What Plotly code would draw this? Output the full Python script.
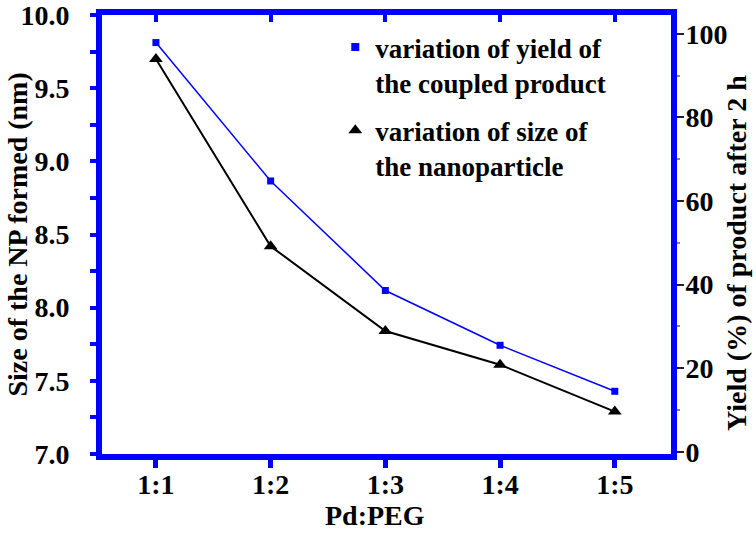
import plotly.graph_objects as go

# ---- data ----
ratios = ["1:1", "1:2", "1:3", "1:4", "1:5"]
yield_pct = [97.9, 64.8, 38.6, 25.5, 14.5]      # right axis, blue squares
np_size_nm = [9.70, 8.42, 7.84, 7.61, 7.29]     # left axis, black triangles
yield_label = "variation of yield of<br>the coupled product"
size_label = "variation of size of<br>the nanoparticle"
x_title = "Pd:PEG"
left_title = "Size of the NP formed (nm)"
right_title = "Yield (%) of product after 2 h"

BLUE = "#0000ff"
FONT = "Liberation Serif, Times New Roman, serif"
tickfont = dict(family=FONT, size=28, color="black", weight="bold")
titlefont = dict(family=FONT, size=28, color="black", weight="bold")

fig = go.Figure()

fig.add_trace(go.Scatter(
    x=ratios, y=np_size_nm, mode="lines+markers", yaxis="y", xaxis="x",
    line=dict(color="black", width=2),
    marker=dict(symbol="triangle-up", size=12, color="black"),
    showlegend=False))

fig.add_trace(go.Scatter(
    x=ratios, y=yield_pct, mode="lines+markers", yaxis="y2", xaxis="x",
    line=dict(color=BLUE, width=1.5),
    marker=dict(symbol="square", size=7, color=BLUE),
    showlegend=False))

# legend entries (marker only, as in the reference)
fig.add_trace(go.Scatter(
    x=[None], y=[None], mode="markers", xaxis="x2", yaxis="y",
    marker=dict(symbol="square", size=8, color=BLUE),
    name=yield_label, legendgroup="a"))
fig.add_trace(go.Scatter(
    x=[None], y=[None], mode="markers", xaxis="x2", yaxis="y",
    marker=dict(symbol="triangle-up", size=12, color="black"),
    name=size_label, legendgroup="b"))

xr = [-0.47, 4.49]

fig.update_layout(
    width=756, height=533,
    margin=dict(l=102, r=85, t=15, b=79, autoexpand=False),
    paper_bgcolor="white", plot_bgcolor="white",
    xaxis=dict(
        type="category", categoryorder="array", categoryarray=ratios,
        range=xr, showgrid=False, zeroline=False, automargin=False,
        showline=True, linecolor=BLUE, linewidth=6, mirror=True,
        ticks="outside", ticklen=8, tickwidth=5, tickcolor=BLUE,
        ticklabelstandoff=-8,
        tickfont=tickfont, ticklabeloverflow="allow",
    ),
    xaxis2=dict(
        overlaying="x", side="top", anchor="y", range=xr, automargin=False,
        tickmode="array", tickvals=list(range(len(ratios))),
        showticklabels=False, showgrid=False, zeroline=False, showline=False,
        ticks="inside", ticklen=7, tickwidth=4, tickcolor=BLUE,
    ),
    yaxis=dict(
        range=[7.0, 10.0], tick0=7.0, dtick=0.5, tickformat=".1f",
        showgrid=False, zeroline=False, automargin=False,
        showline=True, linecolor=BLUE, linewidth=6,
        ticks="outside", ticklen=6, tickwidth=4, tickcolor=BLUE,
        ticklabelstandoff=15, ticklabeloverflow="allow",
        minor=dict(dtick=0.25, tick0=7.0, ticks="outside", ticklen=6,
                   tickwidth=4, tickcolor=BLUE, showgrid=False),
        tickfont=tickfont,
    ),
    yaxis2=dict(
        overlaying="y", side="right", anchor="x", automargin=False,
        range=[-0.5, 104.5], tick0=0, dtick=20,
        showgrid=False, zeroline=False,
        showline=True, linecolor=BLUE, linewidth=6,
        ticks="outside", ticklen=7, tickwidth=1.5, tickcolor="#222222",
        ticklabelstandoff=-4, ticklabeloverflow="allow",
        minor=dict(dtick=10, ticks="outside", ticklen=3, tickwidth=1.5,
                   tickcolor="#888888", showgrid=False),
        tickfont=tickfont,
    ),
    legend=dict(
        x=0.41, y=0.957, xanchor="left", yanchor="top", yref="container",
        bgcolor="rgba(0,0,0,0)", borderwidth=0,
        font=dict(family=FONT, size=27, color="black", weight="bold"),
        valign="top", traceorder="grouped", tracegroupgap=10, itemwidth=30,
    ),
    annotations=[
        dict(text=x_title, xref="paper", yref="paper", x=0.48, y=-0.1777,
             xanchor="center", yanchor="bottom", showarrow=False, font=titlefont,
             borderpad=0),
        dict(text=left_title, xref="paper", yref="paper", x=0, xshift=-85,
             y=0.5, xanchor="center", yanchor="middle", textangle=-90,
             showarrow=False, font=titlefont),
        dict(text=right_title, xref="paper", yref="paper", x=1, xshift=66,
             y=0.458, xanchor="center", yanchor="middle", textangle=-90,
             showarrow=False, font=titlefont),
    ],
)

fig.write_html("out.html", config={"displayModeBar": False},
               post_script="document.body.style.margin='0';")
